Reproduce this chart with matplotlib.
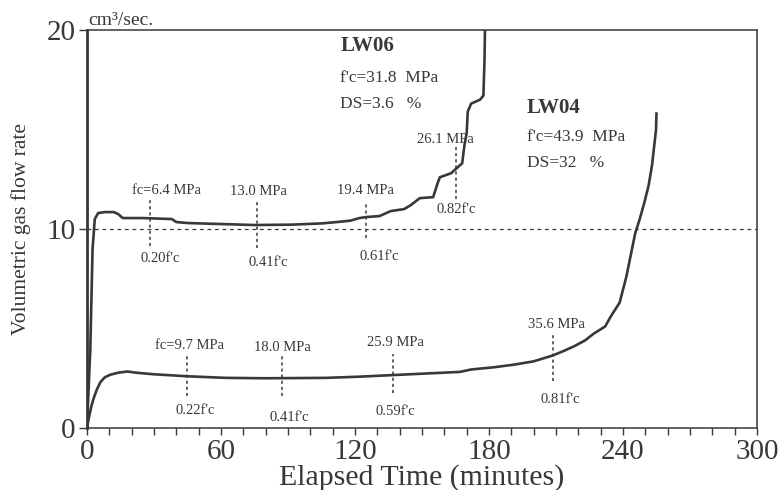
import numpy as np
import matplotlib
matplotlib.use('Agg')
import matplotlib.pyplot as plt

# Curves (time in minutes, flow in cm3/sec)
lw06_t = [0, 1.5, 2.5, 3.5, 5, 8, 12, 14, 16, 25, 38, 40, 45, 60, 75, 92, 105,
          112, 118, 122, 125, 131, 134, 136, 142, 145, 149, 155, 157, 158, 163,
          165, 168, 169, 170, 170.5, 172, 176, 177.5, 178, 178.2]
lw06_q = [0, 4.0, 9.0, 10.5, 10.8, 10.85, 10.85, 10.75, 10.55, 10.55, 10.5,
          10.35, 10.3, 10.25, 10.2, 10.22, 10.28, 10.35, 10.42, 10.55, 10.6,
          10.65, 10.8, 10.9, 11.0, 11.2, 11.55, 11.6, 12.3, 12.6, 12.8, 13.0,
          13.3, 14.2, 14.8, 15.9, 16.3, 16.5, 16.7, 18.5, 20.0]

lw04_t = [0, 1, 2, 3, 4.5, 6, 8, 10.5, 14, 18, 22, 30, 45, 62, 80, 107, 122,
          137, 152, 167, 172, 182, 191, 200, 208.7, 213, 218, 223, 227, 232,
          234.5, 238.5, 241.5, 243.5, 245.5, 247.5, 249.5, 251.5, 253, 254,
          254.8, 255]
lw04_q = [0, 0.6, 1.1, 1.5, 1.95, 2.3, 2.55, 2.68, 2.78, 2.84, 2.78, 2.7, 2.6,
          2.52, 2.5, 2.52, 2.58, 2.66, 2.74, 2.82, 2.94, 3.05, 3.18, 3.35, 3.65,
          3.85, 4.1, 4.4, 4.75, 5.1, 5.6, 6.3, 7.6, 8.7, 9.8, 10.5, 11.3, 12.2,
          13.2, 14.2, 15.0, 15.8]

# Load-stage markers
lw06_mark_t = [28, 76, 125, 165.3]
lw06_mark_lo = [9.15, 9.05, 9.55, 11.5]
lw06_mark_hi = [11.5, 11.4, 11.3, 14.2]
lw06_above = ['fc=6.4 MPa', '13.0 MPa', '19.4 MPa', '26.1 MPa']
lw06_below = ["0.20f'c", "0.41f'c", "0.61f'c", "0.82f'c"]

lw04_mark_t = [44.6, 87.2, 137, 208.7]
lw04_mark_lo = [1.6, 1.6, 1.75, 2.35]
lw04_mark_hi = [3.7, 3.7, 3.7, 4.7]
lw04_above = ['fc=9.7 MPa', '18.0 MPa', '25.9 MPa', '35.6 MPa']
lw04_below = ["0.22f'c", "0.41f'c", "0.59f'c", "0.81f'c"]

plt.rcParams['font.family'] = ['Liberation Serif', 'DejaVu Serif']
ink = '#383838'

fig = plt.figure(figsize=(7.8, 4.9), dpi=100)
ax = fig.add_axes([0.1115, 0.1265, 0.859, 0.8123])

ax.axhline(10, color=ink, lw=0.9, ls=(0, (3, 3)))
ax.plot(lw06_t, lw06_q, color=ink, lw=1.9, solid_joinstyle='round')
ax.plot(lw04_t, lw04_q, color=ink, lw=1.9, solid_joinstyle='round')

ax.vlines(lw06_mark_t, lw06_mark_lo, lw06_mark_hi, color=ink, lw=1.1,
          linestyles=(0, (2, 2)))
ax.vlines(lw04_mark_t, lw04_mark_lo, lw04_mark_hi, color=ink, lw=1.1,
          linestyles=(0, (2, 2)))

# label positions (data coords) for the marker texts
lw06_above_xy = [(35.8, 11.95), (76.8, 11.9), (124.5, 11.95), (160.3, 14.5)]
lw06_below_xy = [(32.7, 8.5), (81, 8.3), (131, 8.6), (165.3, 11.0)]
lw04_above_xy = [(45.7, 4.15), (87.3, 4.05), (138, 4.3), (210, 5.2)]
lw04_below_xy = [(48.4, 0.9), (90.5, 0.55), (138, 0.85), (212, 1.45)]

for txts, pos in [(lw06_above, lw06_above_xy), (lw06_below, lw06_below_xy),
                  (lw04_above, lw04_above_xy), (lw04_below, lw04_below_xy)]:
    for s, (x, y) in zip(txts, pos):
        ax.text(x, y, s, ha='center', va='center', fontsize=10.5, color=ink)

ax.text(113.5, 19.2, 'LW06', fontsize=15, fontweight='bold', color=ink,
        va='center')
ax.text(113.5, 17.6, "f'c=31.8  MPa", fontsize=12.5, color=ink, va='center')
ax.text(113.5, 16.3, 'DS=3.6   %', fontsize=12.5, color=ink, va='center')
ax.text(197, 16.1, 'LW04', fontsize=15, fontweight='bold', color=ink,
        va='center')
ax.text(197, 14.6, "f'c=43.9  MPa", fontsize=12.5, color=ink, va='center')
ax.text(197, 13.3, 'DS=32   %', fontsize=12.5, color=ink, va='center')

ax.text(0.6, 20.05, 'cm³/sec.', fontsize=14, color=ink, va='bottom')

ax.set_xlim(0, 300)
ax.set_ylim(0, 20)
ax.set_xticks(np.arange(0, 301, 60))
ax.set_xticks(np.arange(0, 301, 10), minor=True)
ax.set_yticks([0, 10, 20])
ax.tick_params(axis='x', which='both', direction='out', length=5, width=1,
               colors=ink, labelsize=21, pad=3)
ax.tick_params(axis='y', direction='out', length=6, width=1, colors=ink,
               labelsize=21, pad=2)
for side in ['top', 'right', 'bottom']:
    ax.spines[side].set_linewidth(1.1)
    ax.spines[side].set_color(ink)
ax.spines['left'].set_linewidth(2)
ax.spines['left'].set_color(ink)

ax.set_xlabel('Elapsed Time (minutes)', fontsize=21.5, color=ink, labelpad=-1)
ax.set_ylabel('Volumetric gas flow rate', fontsize=15.5, color=ink,
              labelpad=11)

plt.savefig('out.png', dpi=100)
